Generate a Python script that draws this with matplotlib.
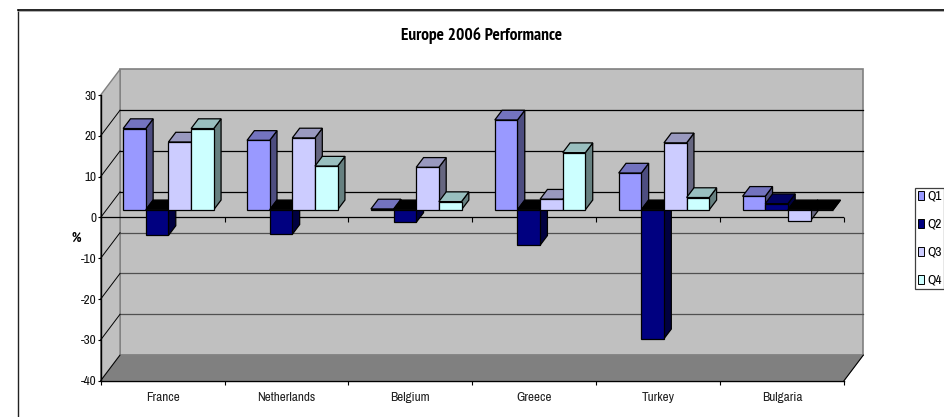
import matplotlib
matplotlib.use("Agg")
import matplotlib.pyplot as plt
from matplotlib.lines import Line2D
from matplotlib.patches import Patch, Polygon

# Values
categories = ['France', 'Netherlands', 'Belgium', 'Greece', 'Turkey', 'Bulgaria']
q1 = [19.9, 17.0, 0.2, 22.0, 9.0, 3.3]
q2 = [-6.3, -6.0, -3.1, -8.7, -31.6, 1.5]
q3 = [16.6, 17.6, 10.4, 2.6, 16.4, -2.7]
q4 = [19.9, 10.7, 2.0, 14.0, 3.0, 0.0]
series_names = ['Q1', 'Q2', 'Q3', 'Q4']
y_ticks = [-40, -30, -20, -10, 0, 10, 20, 30]

front_colors = ['#9999FF', '#000080', '#CCCCFF', '#CCFFFF']
top_colors = ['#7373BF', '#000060', '#9999BF', '#99BFBF']
side_colors = ['#4D4D80', '#000040', '#666680', '#668080']

W, H = 945, 417
WALL = '#C0C0C0'
FLOOR = '#808080'
EDGE = '#808080'

# Oblique depth: how far the back of the chart sits from the front, in data units
DEPTH_X = 0.156
DEPTH_Y = 6.27
BAR_D0, BAR_D1 = 0.30, 0.68
BAR_W = 1 / 5.47
GROUP_OFFSET = (1 - 4 * BAR_W) / 2


def proj(x, v, d):
    return (x + d * DEPTH_X, v + d * DEPTH_Y)


def face(ax, pts, color, z, edge='black', lw=0.9):
    ax.add_patch(Polygon(pts, closed=True, facecolor=color, edgecolor=edge, lw=lw,
                         joinstyle='miter', zorder=z, clip_on=False))


def draw_bar(ax, x, value, i, z):
    x2 = x + BAR_W
    # side
    face(ax, [proj(x2, 0, BAR_D0), proj(x2, 0, BAR_D1),
              proj(x2, value, BAR_D1), proj(x2, value, BAR_D0)], side_colors[i], z)
    # cap: negative and empty bars show a black face on the zero plane
    cap_v = max(value, 0)
    cap_color = top_colors[i] if value > 0 else 'black'
    face(ax, [proj(x, cap_v, BAR_D0), proj(x2, cap_v, BAR_D0),
              proj(x2, cap_v, BAR_D1), proj(x, cap_v, BAR_D1)], cap_color, z)
    # front
    face(ax, [proj(x, 0, BAR_D0), proj(x2, 0, BAR_D0),
              proj(x2, value, BAR_D0), proj(x, value, BAR_D0)], front_colors[i], z)


plt.rcParams['font.family'] = ['Archivo Narrow', 'Liberation Sans', 'DejaVu Sans']
plt.rcParams['axes.unicode_minus'] = False
bold_family = ['PT Sans Narrow', 'Liberation Sans', 'DejaVu Sans']

fig = plt.figure(figsize=(W / 100, H / 100), dpi=100)
ax = fig.add_axes([100.7 / W, (H - 380.7) / H, (844 - 100.7) / W, (380.7 - 95) / H])
ax.patch.set_visible(False)

n = len(categories)
ymin, ymax = y_ticks[0], y_ticks[-1]
ax.set_xlim(0, n)
ax.set_ylim(ymin, ymax)

# walls and floor
face(ax, [proj(0, ymin, 1), proj(n, ymin, 1), proj(n, ymax, 1), proj(0, ymax, 1)], WALL, 1, EDGE, 1.2)
face(ax, [proj(0, ymin, 0), proj(0, ymin, 1), proj(0, ymax, 1), proj(0, ymax, 0)], WALL, 1, EDGE, 1.0)
face(ax, [proj(0, ymin, 0), proj(n, ymin, 0), proj(n, ymin, 1), proj(0, ymin, 1)], FLOOR, 2, FLOOR, 0.5)

# gridlines on back wall and side wall
for v in y_ticks[1:-1]:
    c = 'black' if v >= 0 else '#505050'
    xs, ys = zip(proj(0, v, 1), proj(n, v, 1))
    ax.plot(xs, ys, color=c, lw=0.9, zorder=3, clip_on=False)
for v in y_ticks[:-1]:
    xs, ys = zip(proj(0, v, 0), proj(0, v, 1))
    ax.plot(xs, ys, color='black', lw=0.7, zorder=3, clip_on=False)
xs, ys = zip(proj(n, ymin, 0), proj(n, ymin, 1))
ax.plot(xs, ys, color='black', lw=0.8, zorder=3, clip_on=False)

# zero line with category ticks
ax.axhline(0, color='black', lw=0.9, zorder=4)
ax.vlines(range(1, n + 1), -1.0, 0, color='black', lw=0.8, zorder=4, clip_on=False)

# bars
series = [q1, q2, q3, q4]
for c in range(n):
    for i, vals in enumerate(series):
        draw_bar(ax, c + GROUP_OFFSET + i * BAR_W, vals[c], i, 5 + c + i * 0.1)

# axes
for s in ['top', 'right']:
    ax.spines[s].set_visible(False)
for s in ['left', 'bottom']:
    ax.spines[s].set_linewidth(1.0)
    ax.spines[s].set_zorder(10)
ax.set_yticks(y_ticks)
ax.tick_params(axis='y', length=2.2, width=0.8, pad=1, labelsize=9.5, labelcolor='#111111')
ax.set_xticks(range(n + 1))
ax.set_xticklabels([])
ax.set_xticks([c + 0.5 for c in range(n)], minor=True)
ax.set_xticklabels(categories, minor=True)
ax.tick_params(axis='x', which='major', length=2.8, width=0.8)
ax.tick_params(axis='x', which='minor', length=0, pad=8, labelsize=9.5, labelcolor='#222222')

fig.text(76 / W, 1 - 238 / H, '%', ha='center', va='center', fontsize=9.5, fontweight='bold',
         family=bold_family)
fig.text(482 / W, 1 - 35.5 / H, 'Europe 2006 Performance', ha='center', va='center',
         fontsize=12.5, fontweight='bold', family=bold_family)

# outer chart border, only top and left are in frame
fig.add_artist(Line2D([18 / W, 18 / W], [0, 1 - 9.5 / H], color='#222222', lw=1.0))
fig.add_artist(Line2D([18 / W, 1], [1 - 9.5 / H, 1 - 9.5 / H], color='black', lw=1.2))
fig.add_artist(Line2D([18 / W, 1], [1 - 10.8 / H, 1 - 10.8 / H], color='#A0A0A0', lw=0.6))

handles = [Patch(facecolor=front_colors[i], edgecolor='black', lw=0.7, label=series_names[i])
           for i in range(4)]
leg = fig.legend(handles=handles, loc='center right', bbox_to_anchor=(944.5 / W, 1 - 238.3 / H),
                 fontsize=9.5, frameon=True, fancybox=False, edgecolor='#404040',
                 handlelength=0.5, handleheight=0.7, handletextpad=0.25, labelspacing=1.27,
                 borderpad=0.2, borderaxespad=0, framealpha=1)
leg.get_frame().set_linewidth(0.9)

fig.savefig('out.png', dpi=100)
